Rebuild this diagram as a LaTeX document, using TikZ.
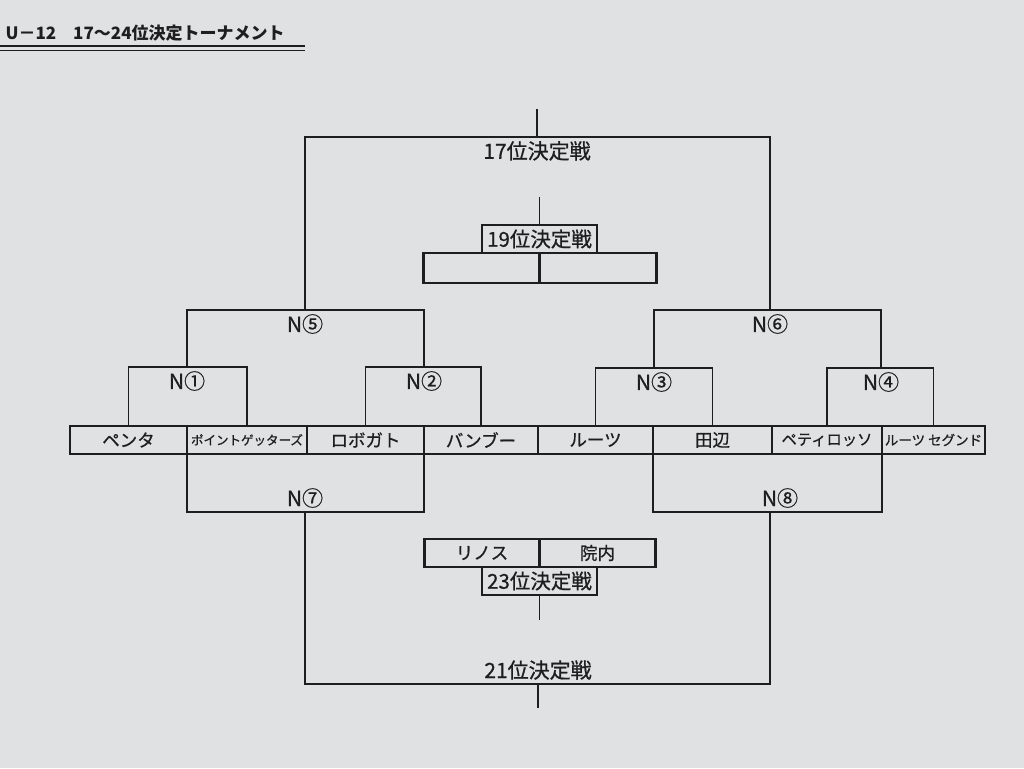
\documentclass[tikz,border=0pt]{standalone}
\usepackage{fontspec}
\setmainfont{Noto Sans CJK JP}
\newfontfamily\medfont{Noto Sans CJK JP}[FakeBold=0.7]
\usepackage{xcolor}
\usepackage{tikz}
\usetikzlibrary{
    positioning
}
\definecolor{paper}{RGB}{224,225,227}
\definecolor{ink}{RGB}{30,30,32}
\tikzstyle{teambox} = [
    rectangle, draw=ink,
    line width=2.2pt,
    minimum height=28pt,
    inner sep=0pt, outer sep=0pt,
    text=ink,
    font=\medfont\fontsize{17.5}{17.5}\selectfont
]
\tikzstyle{rankbox} = [
    rectangle, draw=ink,
    line width=1.3pt,
    minimum width=115pt,
    minimum height=28pt,
    inner sep=0pt, outer sep=0pt,
    text=ink,
    font=\medfont\fontsize{20.5}{20.5}\selectfont
]
\tikzstyle{matchlbl} = [
    text=ink,
    inner sep=1pt,
    font=\medfont\fontsize{21}{21}\selectfont
]
\tikzstyle{bracket} = [
    draw=ink,
    line width=1.3pt
]

\begin{document}
\begin{tikzpicture}[x=1pt, y=-1pt]
    \useasboundingbox[fill=paper] (0,0) rectangle (1024,768);
    % title
    \node[anchor=west, text=ink, font=\fontsize{17}{17}\selectfont\bfseries] (title) at (2,33) {U－12　17～24位決定トーナメント};
    \draw[ink, line width=2pt] (0,46) -- (305,46);
    \draw[ink, line width=0.8pt] (0,50.5) -- (305,50.5);

    % teams
    \node[teambox, minimum width=117pt] (t1) at (128.5,440) {ペンタ};
    \node[teambox, minimum width=120pt, right=0pt of t1, font=\medfont\fontsize{12.5}{12.5}\selectfont] (t2) {ポイントゲッターズ};
    \node[teambox, minimum width=117pt, right=0pt of t2] (t3) {ロボガト};
    \node[teambox, minimum width=114pt, right=0pt of t3] (t4) {バンブー};
    \node[teambox, minimum width=115pt, right=0pt of t4] (t5) {ルーツ};
    \node[teambox, minimum width=119pt, right=0pt of t5] (t6) {田辺};
    \node[teambox, minimum width=110pt, right=0pt of t6, font=\medfont\fontsize{15.3}{15.3}\selectfont] (t7) {ペティロッソ};
    \node[teambox, minimum width=103pt, right=0pt of t7, font=\medfont\fontsize{13.5}{13.5}\selectfont] (t8) {ルーツ セグンド};

    % upper brackets
    \coordinate (m1) at (187,367);
    \coordinate (m2) at (424,367);
    \coordinate (m3) at (654,368);
    \coordinate (m4) at (881,368);
    \coordinate (m5) at (305,310);
    \coordinate (m6) at (770,310);
    \coordinate (top17) at (537,137);
    \draw[bracket] (t1.north) |- (m1) -| (t2.north);
    \draw[bracket] (t3.north) |- (m2) -| (t4.north);
    \draw[bracket] (t5.north) |- (m3) -| (t6.north);
    \draw[bracket] (t7.north) |- (m4) -| (t8.north);
    \draw[bracket] (m1) |- (m5) -| (m2);
    \draw[bracket] (m3) |- (m6) -| (m4);
    \draw[bracket] (m5) |- (top17) -| (m6);
    \draw[bracket] (top17) -- ++(0,-28) coordinate (e17);
    \node[matchlbl, below=3pt of m1] (l1) {N①};
    \node[matchlbl, below=3pt of m2] (l2) {N②};
    \node[matchlbl, below=3pt of m3] (l3) {N③};
    \node[matchlbl, below=3pt of m4] (l4) {N④};
    \node[matchlbl, below=3pt of m5] (l5) {N⑤};
    \node[matchlbl, below=3pt of m6] (l6) {N⑥};
    \node[matchlbl, below=3pt of top17] (l17) {17位決定戦};

    % 19th place
    \node[rankbox] (r19) at (539.5,239) {19位決定戦};
    \node[teambox, minimum width=116pt, minimum height=30pt, anchor=north east] (w19a) at (r19.south) {};
    \node[teambox, minimum width=117pt, minimum height=30pt, right=0pt of w19a] (w19b) {};
    \draw[bracket] (r19.north) -- ++(0,-28) coordinate (e19);

    % lower brackets
    \coordinate (m7) at (305,512);
    \coordinate (m8) at (770,512);
    \coordinate (bot21) at (538,684);
    \draw[bracket] (t1.south east) |- (m7) -| (t3.south east);
    \draw[bracket] (t6.south west) |- (m8) -| (t7.south east);
    \draw[bracket] (m7) |- (bot21) -| (m8);
    \draw[bracket] (bot21) -- ++(0,24) coordinate (e21);
    \node[matchlbl, above=3pt of m7] (l7) {N⑦};
    \node[matchlbl, above=3pt of m8, xshift=10pt] (l8) {N⑧};
    \node[matchlbl, above=3pt of bot21] (l21) {21位決定戦};

    % 23rd place
    \node[rankbox] (r23) at (539.5,581) {23位決定戦};
    \node[teambox, minimum width=115pt, anchor=south east] (w23a) at (r23.north) {リノス};
    \node[teambox, minimum width=116pt, right=0pt of w23a] (w23b) {院内};
    \draw[bracket] (r23.south) -- ++(0,25) coordinate (e23);
\end{tikzpicture}
\end{document}
